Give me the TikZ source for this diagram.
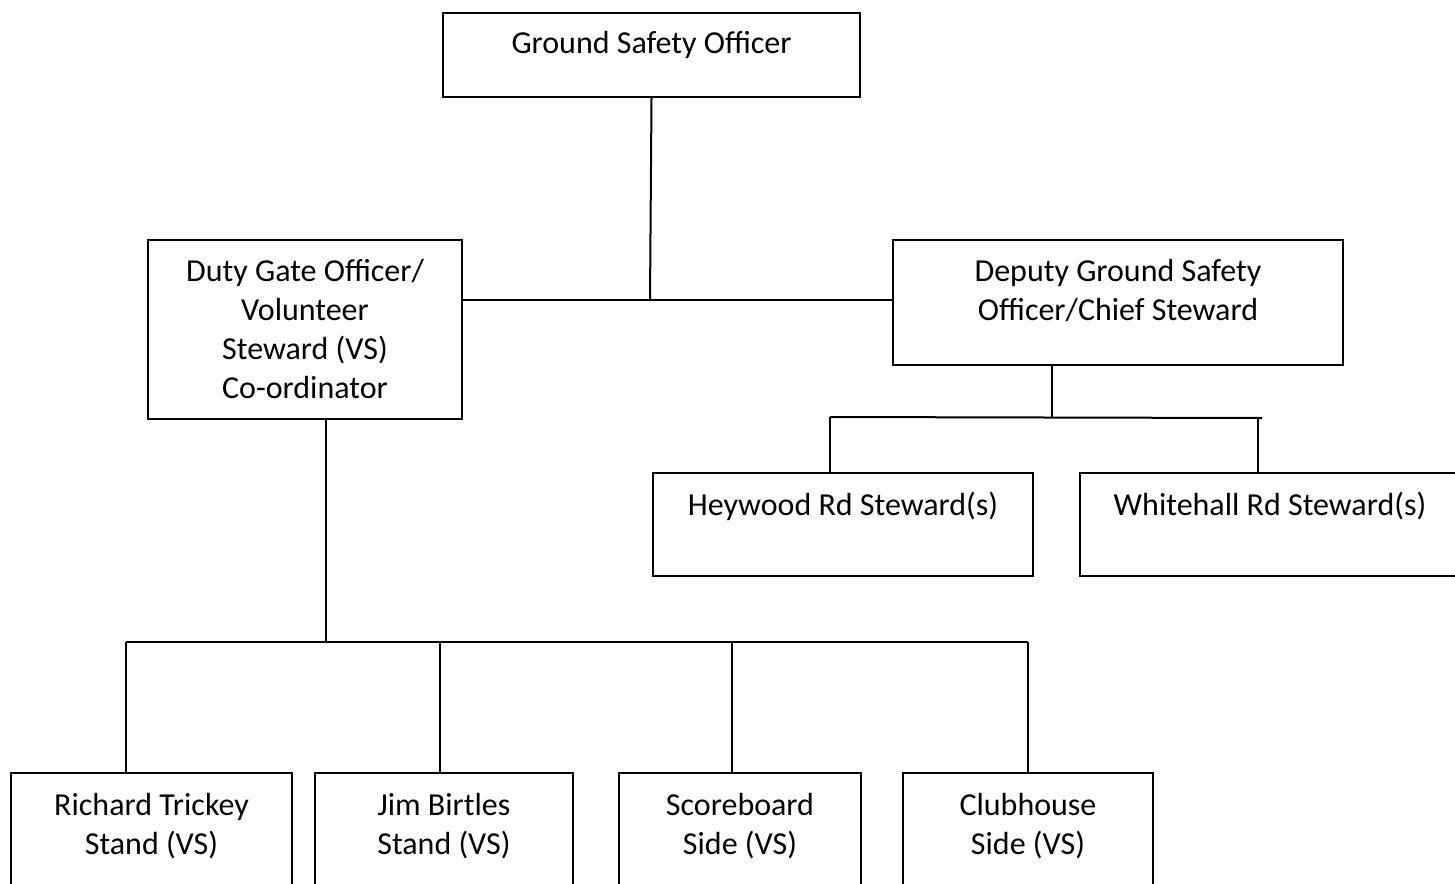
\documentclass[tikz,border=0pt]{standalone}
\usepackage{fontspec}
\setmainfont{Carlito}
\begin{document}
\begin{tikzpicture}[x=1pt,y=-1pt,
  box/.style={draw=black,line width=2pt,rectangle,anchor=north west,inner sep=0pt},
  lbl/.style={anchor=base,align=center,inner sep=0pt,font=\fontsize{32}{39.3}\selectfont},
  conn/.style={draw=black,line width=2pt}]
\useasboundingbox (0,0) rectangle (1455,883);
\clip (0,0) rectangle (1455,883);
% boxes
\node[box,minimum width=417pt,minimum height=84pt] (gso) at (442,12) {};
\node[box,minimum width=314pt,minimum height=179pt] (dgo) at (147,239) {};
\node[box,minimum width=450pt,minimum height=125pt] (dgso) at (892,239) {};
\node[box,minimum width=380pt,minimum height=103pt] (hey) at (652,472) {};
\node[box,minimum width=380pt,minimum height=103pt] (white) at (1079,472) {};
\node[box,minimum width=281pt,minimum height=140pt] (rich) at (10,772) {};
\node[box,minimum width=258pt,minimum height=140pt] (jim) at (314,772) {};
\node[box,minimum width=242pt,minimum height=140pt] (score) at (618,772) {};
\node[box,minimum width=250pt,minimum height=140pt] (club) at (902,772) {};
% texts (base anchor = last line)
\node[lbl] (gsot) at ([yshift=-42pt]gso.north) {Ground Safety Officer};
\node[lbl] (dgot) at ([yshift=-159.9pt]dgo.north) {Duty Gate Officer/\\Volunteer\\Steward (VS)\\Co-ordinator};
\node[lbl] (dgsot) at ([yshift=-81.3pt]dgso.north) {Deputy Ground Safety\\Officer/Chief Steward};
\node[lbl] (heyt) at ([yshift=-43pt]hey.north) {Heywood Rd Steward(s)};
\node[lbl] (whitet) at ([yshift=-43pt]white.north) {Whitehall Rd Steward(s)};
\node[lbl] (richt) at ([yshift=-82.3pt]rich.north) {Richard Trickey\\Stand (VS)};
\node[lbl] (jimt) at ([yshift=-82.3pt]jim.north) {Jim Birtles\\Stand (VS)};
\node[lbl] (scoret) at ([yshift=-82.3pt]score.north) {Scoreboard\\Side (VS)};
\node[lbl] (clubt) at ([yshift=-82.3pt]club.north) {Clubhouse\\Side (VS)};
% connector coordinates
\coordinate (m1) at (650,300);
\coordinate (d0) at (1052,364);
\coordinate (d1) at (1052,418);
\coordinate (dl) at (830,417);
\coordinate (dr) at (1262,418);
\coordinate (hr) at (1258,418);
\coordinate (v0) at (326,418);
\coordinate (v1) at (326,642);
\coordinate (bl) at (126,642);
\coordinate (br) at (1028,642);
\coordinate (b2) at (440,642);
\coordinate (b3) at (732,642);
% connectors
\draw[conn] (gso.south) -- (m1);
\draw[conn] (dgo.east |- m1) -- (dgso.west |- m1);
\draw[conn] (d0) -- (d1);
\draw[conn] (dl) -- (dr);
\draw[conn] (dl) -- (dl |- hey.north);
\draw[conn] (hr) -- (hr |- white.north);
\draw[conn] (v0) -- (v1);
\draw[conn] (bl) -- (br);
\draw[conn] (bl) -- (bl |- rich.north);
\draw[conn] (b2) -- (b2 |- jim.north);
\draw[conn] (b3) -- (b3 |- score.north);
\draw[conn] (br) -- (br |- club.north);
\end{tikzpicture}
\end{document}
